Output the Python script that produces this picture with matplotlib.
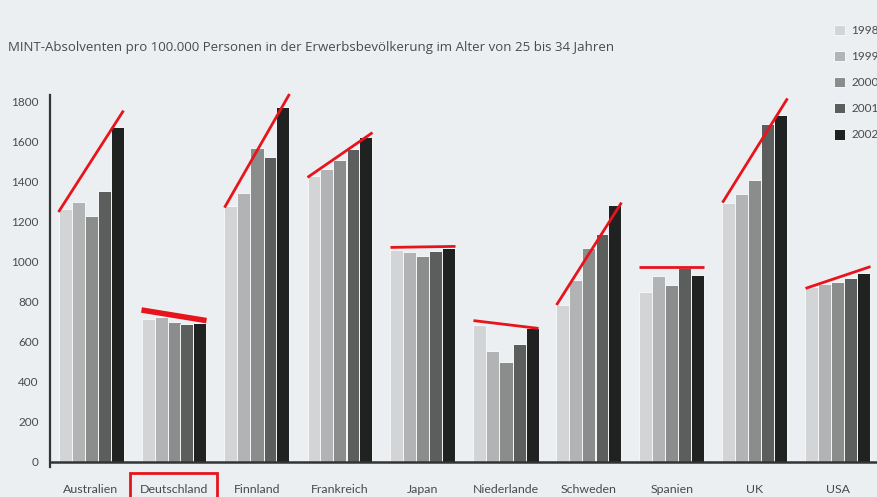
import numpy as np
import matplotlib
matplotlib.use("Agg")
from matplotlib import pyplot as plt
from matplotlib.patches import Rectangle

countries = ["Australien", "Deutschland", "Finnland", "Frankreich", "Japan",
             "Niederlande", "Schweden", "Spanien", "UK", "USA"]
years = ["1998", "1999", "2000", "2001", "2002"]

v1998 = [1265, 713, 1280, 1430, 1060, 685, 785, 848, 1293, 873]
v1999 = [1300, 723, 1347, 1463, 1052, 555, 910, 932, 1342, 890]
v2000 = [1232, 702, 1572, 1510, 1032, 498, 1072, 883, 1408, 900]
v2001 = [1357, 688, 1527, 1565, 1053, 590, 1142, 968, 1688, 918]
v2002 = [1673, 697, 1777, 1623, 1068, 668, 1285, 937, 1733, 947]

# hand drawn red trend marks (value at left / right end of each group)
trend_start = [1250, 760, 1272, 1423, 1073, 707, 785, 975, 1297, 868]
trend_end = [1757, 707, 1840, 1647, 1078, 668, 1297, 975, 1818, 977]

yticks = [0, 200, 400, 600, 800, 1000, 1200, 1400, 1600, 1800]

bar_colors = ["#d2d4d5", "#b1b3b4", "#8b8d8d", "#5c5e5e", "#1f2220"]
bg = "#eceff2"
txt = "#4a4a4a"

plt.rcParams['font.family'] = ['Lato', 'DejaVu Sans']

fig = plt.figure(figsize=(8.77, 4.97), dpi=100, facecolor=bg)
ax = fig.add_axes([50 / 877, 35 / 497, 1 - 50 / 877, (462 - 95) / 497])
ax.set_facecolor(bg)

x = np.arange(len(countries))
step = 13 / 83
series = [v1998, v1999, v2000, v2001, v2002]
for k, vals in enumerate(series):
    ax.bar(x + (k - 2) * step, vals, width=step, color=bar_colors[k],
           edgecolor="#f4f6f7", linewidth=0.7, label=years[k], zorder=2)

for i in range(len(countries)):
    lw = 4 if countries[i] == "Deutschland" else 2
    ax.plot([i - 2.5 * step, i + 2.5 * step], [trend_start[i], trend_end[i]],
            color="#e8141c", linewidth=lw, solid_capstyle="butt", zorder=4,
            clip_on=False)

ax.set_xlim(-41 / 83, (877 - 91) / 83)
ax.set_ylim(0, 1835)
ax.set_yticks(yticks)
ax.tick_params(axis="y", length=0, pad=8, labelsize=8.5, labelcolor=txt)
ax.set_xticks([])
for s in ["top", "right"]:
    ax.spines[s].set_visible(False)
ax.spines["left"].set_color("#333333")
ax.spines["left"].set_linewidth(1.6)
ax.spines["left"].set_bounds(-25, 1835)
ax.spines["bottom"].set_color("#333333")
ax.spines["bottom"].set_linewidth(1.8)

for i, c in enumerate(countries):
    ax.annotate(c, xy=(i, 0), xycoords=("data", "axes fraction"),
                xytext=(0, -19.5), textcoords="offset points", ha="center",
                va="center", fontsize=8.9, color=txt)

# red box around Deutschland
fig.patches.append(Rectangle((130 / 877, -0.02), 87 / 877, (497 - 473) / 497 + 0.02,
                             transform=fig.transFigure, fill=False,
                             edgecolor="#e8141c", linewidth=2))

fig.text(8 / 877, 1 - 47 / 497,
         "MINT-Absolventen pro 100.000 Personen in der Erwerbsbevölkerung im Alter von 25 bis 34 Jahren",
         fontsize=9.5, color=txt, va="center", ha="left", family="Open Sans")

fig.legend(loc="upper left", bbox_to_anchor=(823 / 877, 1 - 14 / 497),
           frameon=False, fontsize=8.5, handlelength=1.0, handleheight=1.0,
           labelspacing=1.25, handletextpad=0.5, labelcolor=txt)

fig.savefig("out.png", dpi=100, facecolor=bg)
